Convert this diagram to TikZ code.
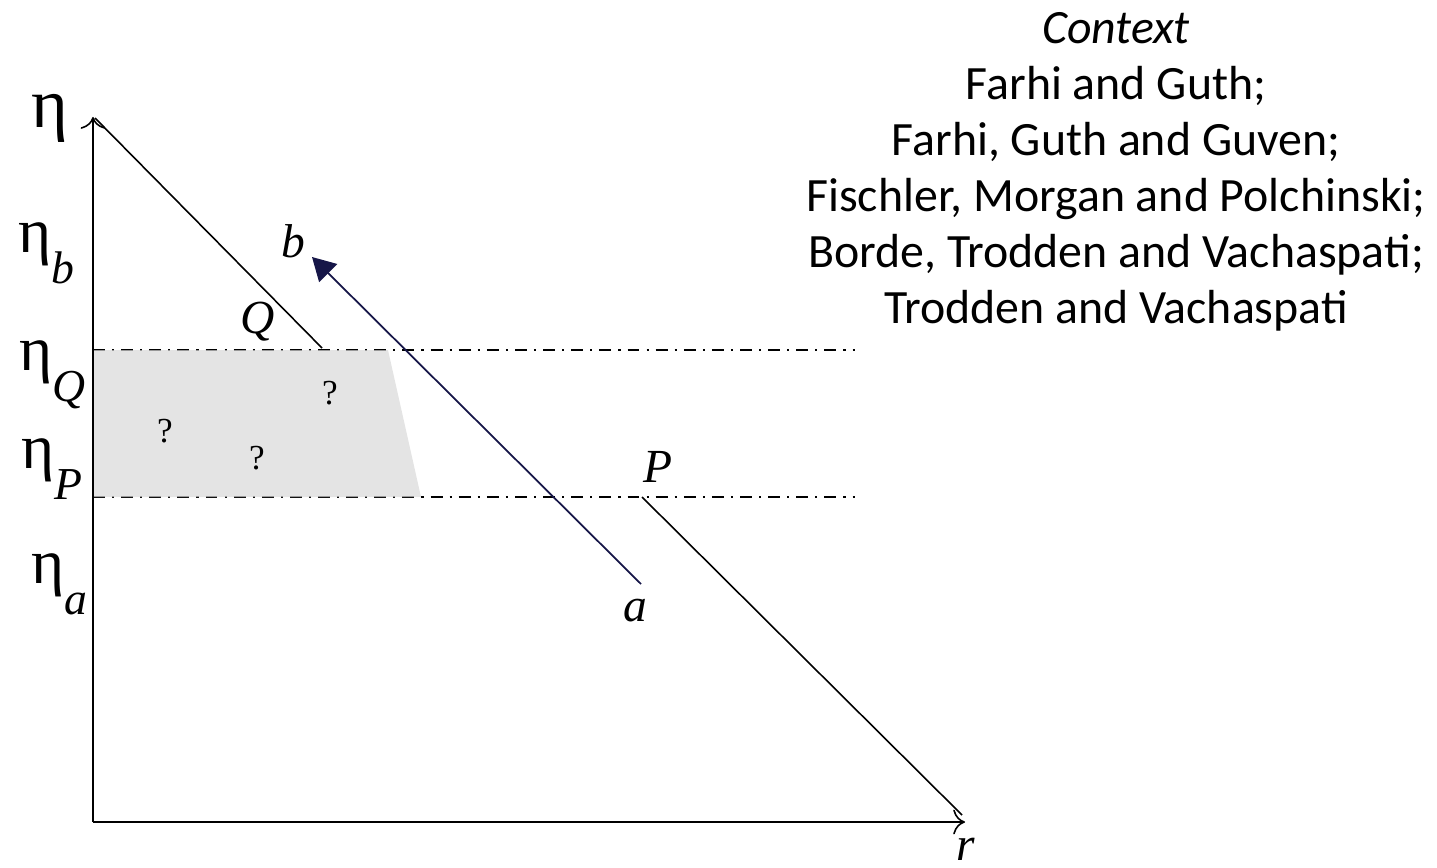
\documentclass[tikz,border=0pt]{standalone}
\usepackage{fontspec}
\setmainfont{Liberation Serif}
\newfontfamily\gillfont{Carlito}
\usetikzlibrary{arrows.meta}

\definecolor{navyline}{RGB}{22,22,72}
\definecolor{shadegray}{RGB}{217,217,217}

\tikzset{
  axis/.style={line width=0.45pt,-{To[scale=1.3]}},
  cone/.style={line width=0.45pt},
  worldline/.style={line width=0.5pt,draw=navyline,-{Triangle[length=6.5pt,width=7.2pt]}},
  level/.style={line width=0.45pt,dash pattern=on 3.4pt off 2pt on 0.6pt off 2pt},
  tag/.style={font=\fontsize{13.5}{13.5}\selectfont\itshape,inner sep=0pt,anchor=base},
  etatag/.style={font=\fontsize{13}{13}\selectfont,inner sep=0pt,anchor=base west},
  qmark/.style={font=\fontsize{10}{10}\selectfont,inner sep=0pt},
  reftext/.style={font=\gillfont\fontsize{13.6}{15.9}\selectfont,align=center,inner sep=0pt,anchor=base}
}
\newcommand{\bigeta}{{\fontsize{18}{18}\selectfont η}}
\newcommand{\etasub}[1]{\bigeta\raisebox{-9pt}{\itshape #1}}

\begin{document}
\begin{tikzpicture}[x=0.01cm,y=-0.01cm]
\useasboundingbox (0,0) rectangle (1437,867);

\coordinate (O) at (93,822);
\coordinate (etaend) at (93,117);
\coordinate (rend) at (965,822);
\coordinate (conetop) at (95,118);
\coordinate (Qend) at (322,348);
\coordinate (Pend) at (642,497);
\coordinate (conebot) at (962,815);
\coordinate (astart) at (641,584);
\coordinate (bend) at (312,257);
\coordinate (Qleft) at (93,350);
\coordinate (Qright) at (855,350);
\coordinate (Pleft) at (93,497);
\coordinate (Pright) at (855,497);

% levels eta_Q and eta_P
\draw[level] (Qleft) -- (Qright);
\draw[level] (Pleft) -- (Pright);
\fill[shadegray,fill opacity=0.7] (Qleft) -- (388,350) -- (421,497) -- (Pleft) -- cycle;

% axes
\draw[axis] (O) -- (etaend);
\draw[axis] (O) -- (rend);

% light cones
\draw[cone] (conetop) -- (Qend);
\draw[cone] (Pend) -- (conebot);
\draw[worldline] (astart) -- (bend);

\node[etatag,font=\fontsize{20}{20}\selectfont] (eta) at (31,127) {η};
\node[etatag] (etab) at (18,252) {\etasub{b}};
\node[etatag] (etaQ) at (19,370) {\etasub{Q}};
\node[etatag] (etaP) at (21,468) {\etasub{P}};
\node[etatag] (etaa) at (31,583) {\etasub{a}};

\node[tag] (Q) at (258,333) {Q};
\node[tag] (b) at (293,258) {b};
\node[tag] (P) at (658,482) {P};
\node[tag] (a) at (635,621) {a};
\node[tag] (r) at (966,860) {r};

\node[qmark] (q1) at (330,393) {?};
\node[qmark] (q2) at (165,431) {?};
\node[qmark] (q3) at (257,458) {?};

\node[reftext] (refs) at (1116,323) {\textit{Context}\\Farhi and Guth;\\Farhi, Guth and Guven;\\Fischler, Morgan and Polchinski;\\Borde, Trodden and Vachaspati;\\Trodden and Vachaspati};
\end{tikzpicture}
\end{document}
